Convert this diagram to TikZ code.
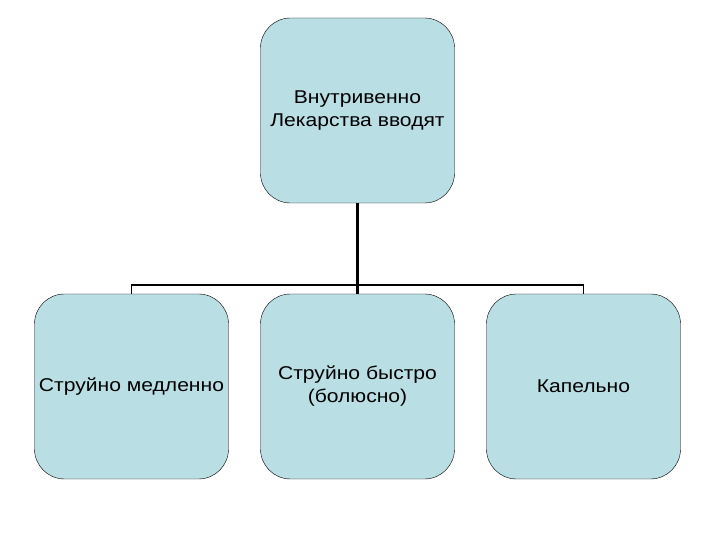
\documentclass[tikz,border=0pt]{standalone}
\usepackage{fontspec}
\setmainfont{Liberation Sans}
\newfontfamily\boxfont[FakeStretch=1.14]{Liberation Sans}
\usepackage{tikz}
\usetikzlibrary{calc}
\definecolor{boxblue}{RGB}{185,222,227}

\begin{document}
\begin{tikzpicture}[x=1pt, y=1pt,
        box_style/.style={rectangle, rounded corners=30pt, draw=black, thin, fill=boxblue,
            minimum width=194pt, minimum height=185pt, align=center, font=\boxfont\fontsize{18.5}{23}\selectfont},
        trunk_style/.style={draw=black, line width=3pt},
        branch_style/.style={draw=black, line width=1.5pt}]

        \useasboundingbox (0,0) rectangle (720,540);

        \node [box_style](n1) at (357.5,429.5) {Внутривенно\\Лекарства вводят};

        \node [box_style](n2) at (131.5,153.5) {Струйно медленно};

        \node [box_style](n3) at (357.5,153.5) {Струйно быстро\\(болюсно)};

        \node [box_style](n4) at (583.5,153.5) {Капельно};

        \coordinate (bar) at (357.5,255);

        \draw [trunk_style] (n1.south) -- (n3.north);

        \draw [branch_style] (n2.north) -- (n2.north |- bar) -- (n4.north |- bar) -- (n4.north);

        \end{tikzpicture}
\end{document}
